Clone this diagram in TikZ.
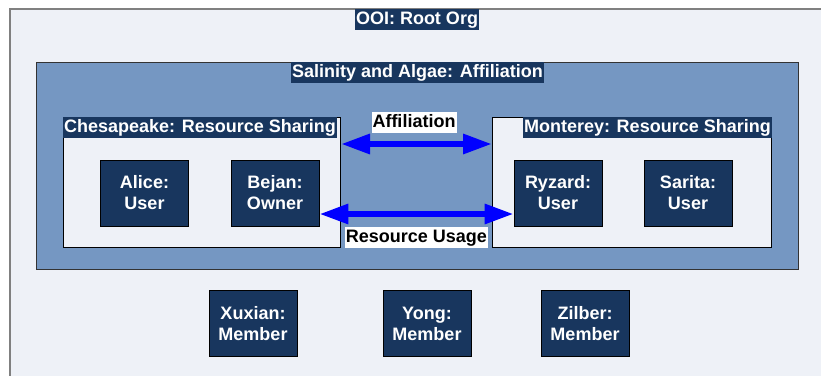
\documentclass[tikz,border=0pt]{standalone}
\usepackage{fontspec}
\setmainfont{Liberation Sans}
\usetikzlibrary{arrows.meta}
\definecolor{outerbg}{RGB}{238,241,247}
\definecolor{midblue}{RGB}{117,151,194}
\definecolor{navy}{RGB}{24,54,94}
\definecolor{arrowblue}{RGB}{0,0,255}
\definecolor{outerline}{RGB}{128,128,128}
\tikzset{
  lblfont/.style={font=\fontsize{18}{21}\selectfont\bfseries},
  boxlabel/.style={lblfont,fill=navy,text=white,inner xsep=1pt,inner ysep=2pt,
    text height=13.5pt,text depth=3.5pt},
  arrowlabel/.style={lblfont,fill=white,text=black,inner xsep=1pt,inner ysep=2pt,
    text height=13.5pt,text depth=3.5pt},
  container/.style={draw=black,line width=1pt,fill=outerbg,inner sep=0pt,anchor=north west},
  rolebox/.style={lblfont,draw=black,line width=0.8pt,fill=navy,text=white,align=center,
    minimum width=88pt,minimum height=66pt,inner sep=0pt},
  bigarrow/.style={draw=arrowblue,line width=6pt,
    {Triangle[length=29pt,width=19pt]}-{Triangle[length=29pt,width=19pt]}}
}
\begin{document}
\begin{tikzpicture}[x=1pt,y=-1pt]
\clip (0,0) rectangle (821,375);
\fill[white] (0,0) rectangle (821,375);
% outer root org
\node[draw=outerline,line width=1.5pt,fill=outerbg,inner sep=0pt,anchor=north west,
  minimum width=840pt,minimum height=400pt] (root) at (9,8) {};
\node[boxlabel,anchor=north] (rootlbl) at (417,9) {OOI: Root Org};
% affiliation box
\node[draw=black!80,line width=1pt,fill=midblue,inner sep=0pt,anchor=north west,
  minimum width=762pt,minimum height=207pt] (aff) at (36,62) {};
\node[boxlabel,anchor=north] (afflbl) at (aff.north) {Salinity and Algae: Affiliation};
% resource sharing boxes
\node[container,minimum width=277pt,minimum height=130pt] (ches) at (63,117) {};
\node[boxlabel,anchor=north west] (cheslbl) at (ches.north west) {Chesapeake: Resource Sharing};
\node[container,minimum width=279pt,minimum height=130pt] (mont) at (492,117) {};
\node[boxlabel,anchor=north east] (montlbl) at (mont.north east) {Monterey: Resource Sharing};
% roles
\node[rolebox] (alice) at (144.5,193) {Alice:\\User};
\node[rolebox] (bejan) at (275,193) {Bejan:\\Owner};
\node[rolebox] (ryzard) at (558,193) {Ryzard:\\User};
\node[rolebox] (sarita) at (688,193) {Sarita:\\User};
\node[rolebox] (xuxian) at (253,323.5) {Xuxian:\\Member};
\node[rolebox] (yong) at (427,323.5) {Yong:\\Member};
\node[rolebox] (zilber) at (585,323.5) {Zilber:\\Member};
% arrows
\coordinate (affy) at (0,144);
\coordinate (usey) at (0,214);
\draw[bigarrow] (ches.east |- affy) -- (mont.west |- affy);
\draw[bigarrow] (bejan.east |- usey) -- (ryzard.west |- usey);
\node[arrowlabel] (afftxt) at (414,122) {Affiliation};
\node[arrowlabel] (usetxt) at (416.5,237) {Resource Usage};
\end{tikzpicture}
\end{document}
